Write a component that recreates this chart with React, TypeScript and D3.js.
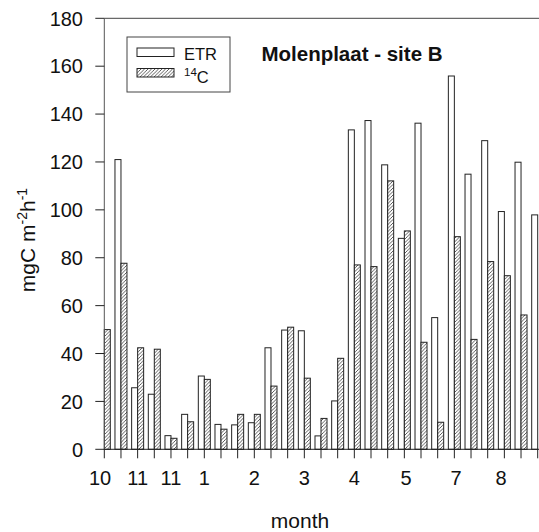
import React from 'react';
import * as d3 from 'd3';

// sampling index (one group per sampling date), ETR and 14C production
const ETR = [null, 121, 25.7, 23, 5.7, 14.6, 30.6, 10.4, 10.2, 11.1, 42.4, 49.8, 49.5, 5.6, 20.2, 133.4, 137.3, 118.8, 88.1, 136.2, 55, 155.9, 114.9, 128.9, 99.3, 119.9, 97.9];
const C14 = [50, 77.7, 42.4, 41.8, 4.6, 11.5, 29.2, 8.4, 14.6, 14.6, 26.4, 51, 29.7, 12.9, 38, 77, 76.3, 112.1, 91.2, 44.7, 11.3, 88.8, 45.9, 78.4, 72.5, 56.1, null];

const MONTHS = ['10', '11', '11', '1', '2', '3', '4', '5', '7', '8'];
const MONTH_POS = [-0.25, 2, 4, 6, 9, 12, 15, 18.1, 21.1, 23.8];

const YTICKS = [0, 20, 40, 60, 80, 100, 120, 140, 160, 180];

const W = 539;
const H = 532;
const FONT = '"Liberation Sans", Arial, sans-serif';

export default function App() {
  const x = d3.scaleLinear().domain([0, 26]).range([104.3, 537.7]);
  const y = d3.scaleLinear().domain([0, 180]).range([449.3, 18.3]);
  const step = x(1) - x(0);
  const bw = step * 0.36;
  const ink = '#222';

  const bars = [];
  ETR.forEach((v, i) => {
    if (v == null) return;
    bars.push(
      <rect key={'e' + i} x={x(i) - bw} y={y(v)} width={bw} height={y(0) - y(v)}
        fill="#fff" stroke={ink} strokeWidth={1} />
    );
  });
  C14.forEach((v, i) => {
    if (v == null) return;
    bars.push(
      <rect key={'c' + i} x={x(i)} y={y(v)} width={bw} height={y(0) - y(v)}
        fill="url(#hatch)" stroke={ink} strokeWidth={1} />
    );
  });

  const xticks = d3.range(0, 27);

  return (
    <svg width={W} height={H} style={{ position: 'absolute', left: 0, top: 0 }}
      fontFamily={FONT}>
      <defs>
        <pattern id="hatch" patternUnits="userSpaceOnUse" width={3.5} height={3.5}>
          <rect width={3.5} height={3.5} fill="#fff" />
          <path d="M-1,1 l2,-2 M0,3.5 l3.5,-3.5 M2.5,4.5 l2,-2" stroke="#333" strokeWidth={0.8} />
        </pattern>
      </defs>
      <rect width={W} height={H} fill="#fff" />

      {bars}

      {/* frame */}
      <line x1={x(0)} x2={W + 5} y1={y(180)} y2={y(180)} stroke="#444" />
      <line x1={x(0)} x2={x(0)} y1={y(0)} y2={y(180)} stroke="#555" />
      <line x1={x(0)} x2={W + 5} y1={y(0)} y2={y(0)} stroke={ink} />

      {YTICKS.map(t => (
        <g key={'y' + t}>
          <line x1={x(0) - 9} x2={x(0)} y1={y(t)} y2={y(t)} stroke={ink} />
          <text x={83} y={y(t)} dy="0.36em" textAnchor="end" fontSize={20} fill="#111">{t}</text>
        </g>
      ))}

      {xticks.map(i => (
        <line key={'x' + i} x1={x(i)} x2={x(i)} y1={y(0)} y2={y(0) + 9} stroke={ink} />
      ))}

      {MONTHS.map((m, i) => (
        <text key={'m' + i} x={x(MONTH_POS[i])} y={485} textAnchor="middle" fontSize={20} fill="#111">{m}</text>
      ))}

      <text x={300} y={528} textAnchor="middle" fontSize={21} fill="#111">month</text>

      <text transform="translate(35,240) rotate(-90)" textAnchor="middle" fontSize={21} fill="#111">
        mgC m<tspan dy={-8} fontSize={14}>-2</tspan><tspan dy={8}>h</tspan><tspan dy={-8} fontSize={14}>-1</tspan>
      </text>

      <text x={352} y={61} textAnchor="middle" fontSize={20.5} fontWeight="bold" fill="#111">Molenplaat - site B</text>

      {/* legend */}
      <rect x={127} y={37} width={103} height={55} fill="#fff" stroke="#444" />
      <rect x={137} y={48} width={37} height={8.5} fill="#fff" stroke={ink} />
      <rect x={137} y={68.5} width={37} height={8.5} fill="url(#hatch)" stroke={ink} />
      <text x={184} y={59.5} fontSize={16.5} fill="#111">ETR</text>
      <text x={184} y={83} fontSize={16.5} fill="#111">
        <tspan dy={-7} fontSize={11.5}>14</tspan><tspan dy={7}>C</tspan>
      </text>
    </svg>
  );
}
